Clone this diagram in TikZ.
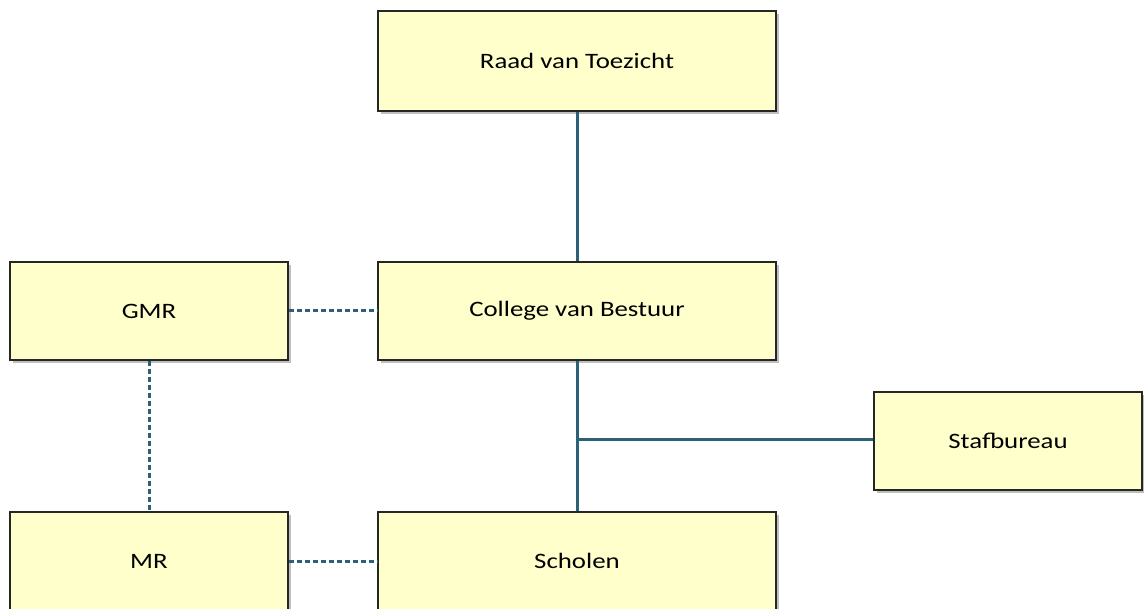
\documentclass[tikz,border=0pt]{standalone}
\usepackage{fontspec}
\setmainfont[FakeStretch=1.22]{Carlito}
\usetikzlibrary{shadows}
\definecolor{boxfill}{HTML}{FFFFCC}
\definecolor{boxline}{HTML}{262626}
\definecolor{conn}{HTML}{2B6276}
\tikzset{
  orgbox/.style={draw=boxline, line width=1.4pt, fill=boxfill, rectangle, inner sep=0pt,
    font=\fontsize{22}{26}\selectfont,
    drop shadow={opacity=0.5, shadow xshift=3pt, shadow yshift=-3pt}},
  solidconn/.style={draw=conn, line width=3pt},
  dashconn/.style={draw=conn, line width=3pt, dash pattern=on 5pt off 3pt}
}
\begin{document}
\begin{tikzpicture}[x=1pt,y=-1pt]
\useasboundingbox (0,0) rectangle (1144,609);
\clip (0,0) rectangle (1144,609);
\node[orgbox, minimum width=398pt, minimum height=100pt] (rvt) at (577,61) {Raad van Toezicht};
\node[orgbox, minimum width=398pt, minimum height=98pt] (cvb) at (577,311) {College van Bestuur};
\node[orgbox, minimum width=278pt, minimum height=98pt] (gmr) at (149,311) {GMR};
\node[orgbox, minimum width=268pt, minimum height=98pt] (staf) at (1008,441) {Stafbureau};
\node[orgbox, minimum width=278pt, minimum height=98pt] (mr) at (149,561) {MR};
\node[orgbox, minimum width=398pt, minimum height=98pt] (sch) at (577,561) {Scholen};
\coordinate (br) at (577,440);
\draw[solidconn] (rvt.south) -- (cvb.north);
\draw[solidconn] (cvb.south) -- (sch.north);
\draw[solidconn] (br) -- (staf.west |- br);
\draw[dashconn] (gmr.east) -- (cvb.west);
\draw[dashconn] (gmr.south) -- (mr.north);
\draw[dashconn] (mr.east) -- (sch.west);
\end{tikzpicture}
\end{document}
